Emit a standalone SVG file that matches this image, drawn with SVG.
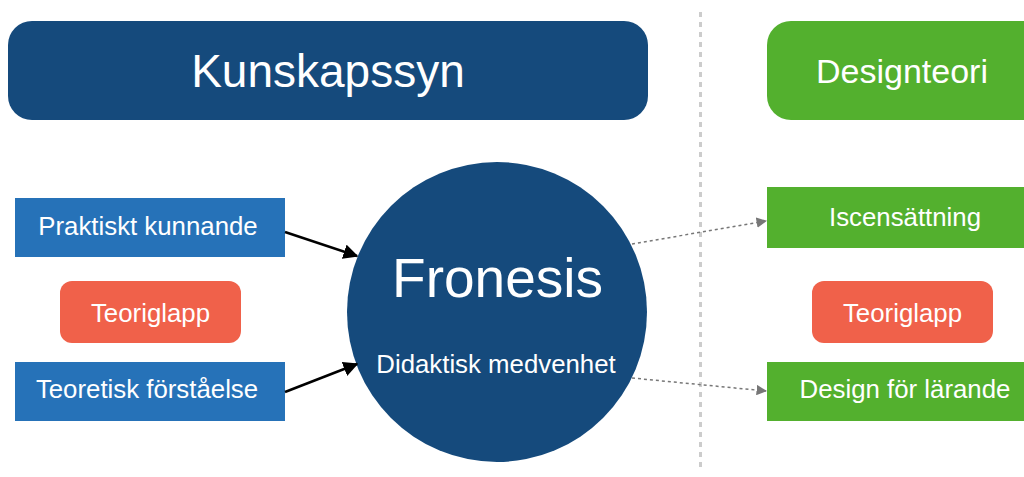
<svg xmlns="http://www.w3.org/2000/svg" width="1024" height="477" viewBox="0 0 1024 477">
<defs>
<style>
text{font-family:"Liberation Sans",Arial,sans-serif;fill:#ffffff;text-anchor:middle}
.dark{fill:#154a7c}
.mid{fill:#2672b8}
.green{fill:#53b02e}
.coral{fill:#f0614a}
.t25{font-size:25.8px}
.solid{stroke:#000;stroke-width:2.5;fill:none;marker-end:url(#ah)}
.dot{stroke:#777;stroke-width:1.5;stroke-dasharray:3 3;fill:none;marker-end:url(#ahg)}
</style>
<marker id="ah" viewBox="0 0 10 10" refX="9" refY="5" markerWidth="6" markerHeight="6" markerUnits="strokeWidth" orient="auto"><path d="M0,0 L10,5 L0,10 z" fill="#000"/></marker>
<marker id="ahg" viewBox="0 0 10 10" refX="9" refY="5" markerWidth="7" markerHeight="7" markerUnits="strokeWidth" orient="auto"><path d="M0,0 L10,5 L0,10 z" fill="#777"/></marker>
</defs>
<rect width="1024" height="477" fill="#ffffff"/>
<line x1="700.5" y1="12" x2="700.5" y2="472" stroke="#cccccc" stroke-width="3" stroke-dasharray="5 5"/>
<g id="kunskapssyn"><rect class="dark" x="8" y="21" width="640" height="99" rx="24"/><text x="328" y="87" font-size="46">Kunskapssyn</text></g>
<g id="designteori"><rect class="green" x="767" y="21" width="290" height="99" rx="24"/><text x="902" y="83" font-size="34">Designteori</text></g>
<g id="praktiskt"><rect class="mid" x="15" y="198" width="270" height="59"/><text class="t25" x="148" y="235">Praktiskt kunnande</text></g>
<g id="teoriglapp-vanster"><rect class="coral" x="60" y="281" width="181" height="62" rx="12"/><text class="t25" x="150.5" y="322">Teoriglapp</text></g>
<g id="teoretisk"><rect class="mid" x="15" y="362" width="270" height="59"/><text class="t25" x="147" y="398">Teoretisk förståelse</text></g>
<g id="fronesis"><circle class="dark" cx="497" cy="312" r="150"/><text x="497.5" y="297" font-size="55">Fronesis</text><text x="496" y="373" font-size="25.8">Didaktisk medvenhet</text></g>
<g id="iscensattning"><rect class="green" x="767" y="187" width="280" height="61"/><text class="t25" x="905" y="226">Iscensättning</text></g>
<g id="teoriglapp-hoger"><rect class="coral" x="812" y="281" width="181" height="62" rx="12"/><text class="t25" x="902.5" y="322">Teoriglapp</text></g>
<g id="design-for-larande"><rect class="green" x="767" y="362" width="280" height="59"/><text class="t25" x="905" y="398">Design för lärande</text></g>
<g id="connectors">
<line class="solid" x1="285" y1="232" x2="357" y2="256"/>
<line class="solid" x1="285" y1="392" x2="357" y2="364"/>
<line class="dot" x1="632" y1="244" x2="766" y2="221"/>
<line class="dot" x1="632" y1="378" x2="766" y2="391"/>
</g>
</svg>
